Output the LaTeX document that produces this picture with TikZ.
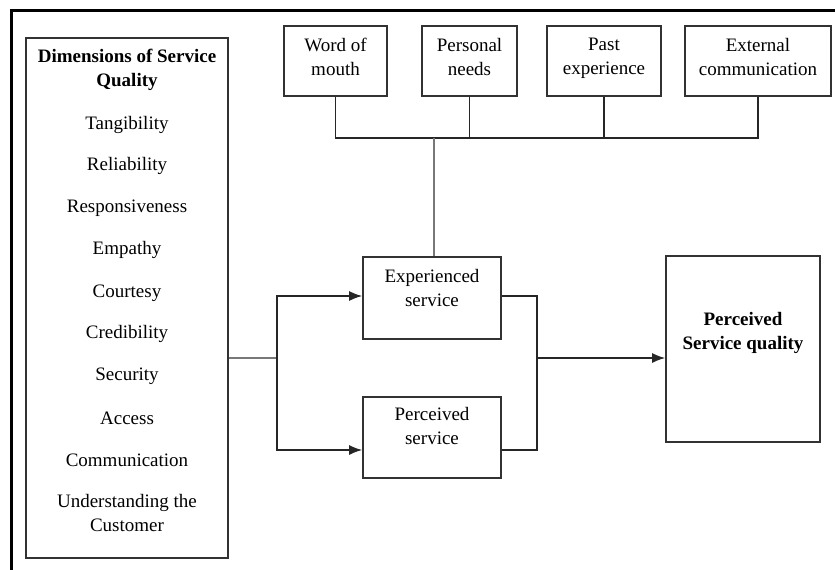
\documentclass[tikz,border=0pt]{standalone}
\usepackage{fontspec}
\setmainfont{Liberation Serif}
\usetikzlibrary{arrows.meta}
\definecolor{boxgray}{RGB}{50, 50, 50}
\definecolor{stemgray}{RGB}{120, 120, 120}

\tikzset{
  box/.style={draw=boxgray, line width=1.6pt, rectangle, inner sep=0pt},
  txt/.style={align=center, inner sep=0pt, font=\fontsize{19}{24}\selectfont},
  wire/.style={line width=1.5pt, draw=black!85},
  arr/.style={wire, -{Latex[length=13pt, width=10pt]}}
}

\begin{document}
\begin{tikzpicture}[x=1pt, y=-1pt]
      \useasboundingbox (0,0) rectangle (835,570);

      % Frame
      \draw[line width=3pt] (11,575) -- (11,10) -- (840,10);

      % Dimensions of service quality
      \node[box, minimum width=202pt, minimum height=520pt] (dims) at (127,298) {};
      \node[txt, font=\fontsize{19}{24}\selectfont\bfseries] (title) at (127,70) {Dimensions of Service\\Quality};
      \foreach \d/\y [count=\i from 1] in {Tangibility/125, Reliability/166, Responsiveness/208,
          Empathy/250, Courtesy/293, Credibility/334, Security/376, Access/418, Communication/460} {
        \node[txt] (dim\i) at (127,\y) {\d};
      }
      \node[txt] (dim10) at (127,513) {Understanding the\\Customer};

      % Expectation factors
      \node[box, minimum width=103pt, minimum height=70pt] (wom) at (335.5,61) {};
      \node[box, minimum width=95pt, minimum height=70pt] (pn) at (469.5,61) {};
      \node[box, minimum width=114pt, minimum height=70pt] (pe) at (604,61) {};
      \node[box, minimum width=146pt, minimum height=70pt] (ec) at (758,61) {};
      \node[txt, anchor=north] (womt) at ([yshift=-13pt]wom.north) {Word of\\mouth};
      \node[txt, anchor=north] (pnt) at ([yshift=-13pt]pn.north) {Personal\\needs};
      \node[txt, anchor=north] (pet) at ([yshift=-13pt]pe.north) {Past\\experience};
      \node[txt, anchor=north] (ect) at ([yshift=-13pt]ec.north) {External\\communication};

      % Service boxes
      \node[box, minimum width=138pt, minimum height=82pt] (exp) at (432,298) {};
      \node[box, minimum width=138pt, minimum height=81pt] (perc) at (432,437.5) {};
      \node[box, minimum width=154pt, minimum height=186pt] (qual) at (743,349) {};
      \node[txt, anchor=north] (expt) at ([yshift=-13pt]exp.north) {Experienced\\service};
      \node[txt, anchor=north] (perct) at ([yshift=-11pt]perc.north) {Perceived\\service};
      \node[txt, anchor=north, font=\fontsize{19}{24}\selectfont\bfseries] (qualt) at ([yshift=-57pt]qual.north) {Perceived\\Service quality};

      \coordinate (bus) at (434,138);
      \coordinate (split) at (277,358);
      \coordinate (join) at (537,358);

      % Connectors
      \draw[wire] (wom.south) -- (wom.south |- bus) -| (ec.south);
      \draw[wire] (pn.south) -- (pn.south |- bus);
      \draw[wire] (pe.south) -- (pe.south |- bus);
      \draw[wire, draw=stemgray] (bus) -- (bus |- exp.north);

      \draw[wire, draw=stemgray] (dims.east |- split) -- (split);
      \draw[arr] (split) |- ([yshift=2pt]exp.west);
      \draw[arr] (split) |- ([yshift=-12.5pt]perc.west);
      \draw[wire] ([yshift=2pt]exp.east) -| (join);
      \draw[wire] ([yshift=-12.5pt]perc.east) -| (join);
      \draw[arr] (join) -- (qual.west |- join);
\end{tikzpicture}
\end{document}
